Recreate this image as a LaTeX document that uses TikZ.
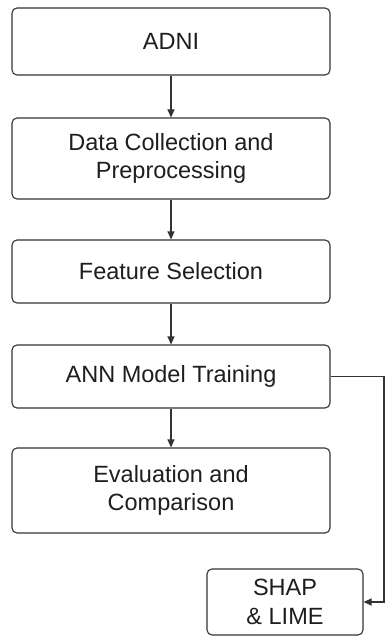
\documentclass[tikz,border=0pt]{standalone}
\usepackage{fontspec}
\setmainfont{Liberation Sans}
\usetikzlibrary{arrows.meta}
\definecolor{edge}{HTML}{333333}
\definecolor{txt}{HTML}{1E1E1E}
\begin{document}
\begin{tikzpicture}[x=1pt,y=1pt,
  box/.style={draw=edge, line width=1.1pt, rounded corners=5pt, fill=white, text=txt,
    align=center, inner sep=0pt, font=\fontsize{23.5}{28.5}\selectfont},
  conn/.style={draw=edge, line width=1.1pt, -{Triangle[length=8pt,width=7pt]}}]
\useasboundingbox[fill=white] (0,0) rectangle (387,-636);
\node[box, minimum width=318pt, minimum height=67pt] (adni) at (171,-41.5) {ADNI};
\node[box, minimum width=318pt, minimum height=81pt] (prep) at (171,-158.5) {Data Collection and\\Preprocessing};
\node[box, minimum width=318pt, minimum height=63pt] (feat) at (171,-271.5) {Feature Selection};
\node[box, minimum width=318pt, minimum height=63pt] (ann) at (171,-376.5) {ANN Model Training};
\node[box, minimum width=318pt, minimum height=85pt] (eval) at (171,-490.5) {Evaluation and\\Comparison};
\node[box, minimum width=156pt, minimum height=66pt] (shap) at (285,-602) {SHAP\\\&\ LIME};
\coordinate (turn) at (384,-376.5);
\draw[conn] (adni) -- (prep);
\draw[conn] (prep) -- (feat);
\draw[conn] (feat) -- (ann);
\draw[conn] (ann) -- (eval);
\draw[conn] (ann.east) -- (turn) |- (shap.east);
\end{tikzpicture}
\end{document}
